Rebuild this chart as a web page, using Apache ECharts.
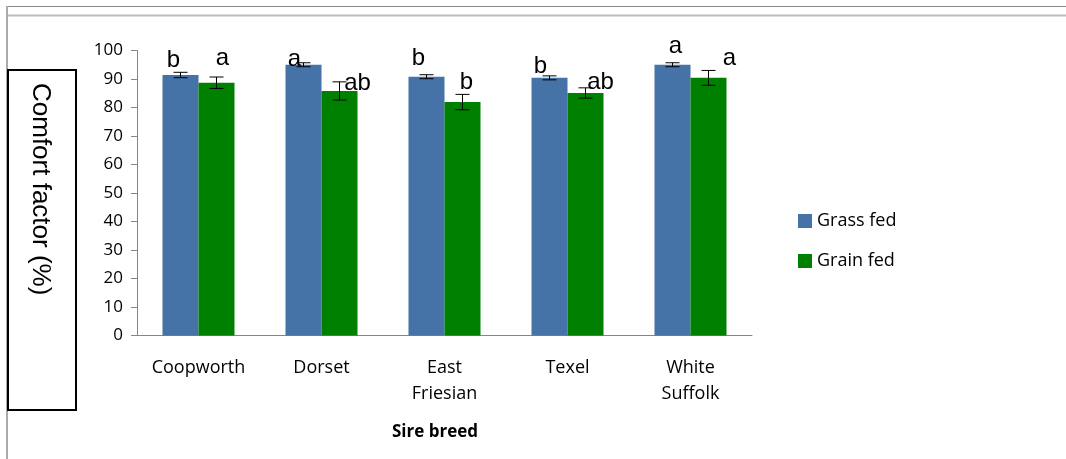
<!DOCTYPE html>
<html>
<head>
<meta charset="utf-8">
<title>Comfort factor by sire breed</title>
<script src="https://cdn.jsdelivr.net/npm/echarts@6/dist/echarts.min.js"></script>
<style>
  html, body { margin: 0; padding: 0; background: #fff; }
  #chart { width: 1066px; height: 459px; }
</style>
</head>
<body>
<div id="chart"></div>
<script>
/* === Data === */
const BREEDS = ['Coopworth', 'Dorset', 'East\nFriesian', 'Texel', 'White\nSuffolk'];
const SERIES_NAMES = ['Grass fed', 'Grain fed'];
const GRASS_MEAN = [91.4, 95.0, 90.8, 90.4, 95.0];
const GRASS_ERR = [0.95, 0.7, 0.7, 0.7, 0.7];
const GRAIN_MEAN = [88.7, 85.8, 81.9, 85.1, 90.4];
const GRAIN_ERR = [2.0, 3.2, 2.7, 1.8, 2.6];
const GRASS_LETTERS = ['b', 'a', 'b', 'b', 'a'];
const GRAIN_LETTERS = ['a', 'ab', 'b', 'ab', 'a'];
const Y_TICKS = { min: 0, max: 100, interval: 10 };

/* === Style === */
const COLORS = ['#4572A7', '#008000'];
const BAR_W = 36;
const AXIS_GRAY = '#868686';
const FONT = "'Open Sans', 'Liberation Sans', sans-serif";
// letter nudges (px) from the bar top centre, as placed in the original
const GRASS_LBL_DX = [-7, -9, -8, -9, 3];
const GRASS_LBL_DY = [-3, 7, -6, 1, -6];
const GRAIN_LBL_DX = [6, 18, 4, 15, 21];
const GRAIN_LBL_DY = [-12, 4, -8, 1, -7];

function errSeries(means, errs, letters, side, dxs, dys) {
  return {
    type: 'custom',
    z: 5,
    silent: true,
    data: means.map((m, i) => [i, m, errs[i]]),
    renderItem: (params, api) => {
      const i = api.value(0);
      const m = api.value(1);
      const e = api.value(2);
      const top = api.coord([i, m + e]);
      const bot = api.coord([i, m - e]);
      const mid = api.coord([i, m]);
      const x = top[0] + side * BAR_W / 2;
      const cap = 7;
      const st = { stroke: '#000', lineWidth: 1 };
      return {
        type: 'group',
        children: [
          { type: 'line', shape: { x1: x, y1: top[1], x2: x, y2: bot[1] }, style: st },
          { type: 'line', shape: { x1: x - cap, y1: top[1], x2: x + cap, y2: top[1] }, style: st },
          { type: 'line', shape: { x1: x - cap, y1: bot[1], x2: x + cap, y2: bot[1] }, style: st },
          {
            type: 'text',
            style: {
              text: letters[params.dataIndex],
              x: x + dxs[params.dataIndex],
              y: mid[1] + dys[params.dataIndex],
              fill: '#000',
              fontSize: 24,
              fontFamily: "'Liberation Sans', Arial, sans-serif",
              align: 'center',
              verticalAlign: 'bottom'
            }
          }
        ]
      };
    }
  };
}

function initChart() {
  const el = document.getElementById('chart');
  const chart = echarts.init(el);
  chart.setOption({
    animation: false,
    backgroundColor: '#fff',
    grid: { left: 137, right: 314, top: 50.5, bottom: 123.5 },
    legend: {
      data: SERIES_NAMES,
      orient: 'vertical',
      left: 793, top: 207,
      itemWidth: 14, itemHeight: 14, itemGap: 22,
      icon: 'rect',
      textStyle: { fontSize: 18, fontFamily: FONT, color: '#000', padding: [0, 0, 0, 0] }
    },
    xAxis: {
      type: 'category',
      data: BREEDS,
      axisLine: { lineStyle: { color: AXIS_GRAY } },
      axisTick: { length: 6, lineStyle: { color: AXIS_GRAY } },
      axisLabel: { color: '#000', fontSize: 18, fontFamily: FONT, lineHeight: 26, margin: 19, interval: 0 }
    },
    yAxis: {
      type: 'value',
      min: Y_TICKS.min, max: Y_TICKS.max, interval: Y_TICKS.interval,
      axisLine: { show: true, lineStyle: { color: AXIS_GRAY } },
      axisTick: { show: true, length: 6, lineStyle: { color: AXIS_GRAY } },
      splitLine: { show: false },
      axisLabel: { color: '#000', fontSize: 17, fontFamily: FONT, margin: 14 }
    },
    series: [
      { name: SERIES_NAMES[0], type: 'bar', data: GRASS_MEAN, barWidth: BAR_W, barGap: '0%', itemStyle: { color: COLORS[0] } },
      { name: SERIES_NAMES[1], type: 'bar', data: GRAIN_MEAN, barWidth: BAR_W, barGap: '0%', itemStyle: { color: COLORS[1] } },
      errSeries(GRASS_MEAN, GRASS_ERR, GRASS_LETTERS, -1, GRASS_LBL_DX, GRASS_LBL_DY),
      errSeries(GRAIN_MEAN, GRAIN_ERR, GRAIN_LETTERS, 1, GRAIN_LBL_DX, GRAIN_LBL_DY)
    ],
    graphic: [
      // partial outer frame of the original figure
      { type: 'line', shape: { x1: 6, y1: 6.5, x2: 1066, y2: 6.5 }, style: { stroke: '#8a8a8a', lineWidth: 1 } },
      { type: 'line', shape: { x1: 8, y1: 15.5, x2: 1066, y2: 15.5 }, style: { stroke: '#bdbdbd', lineWidth: 2 } },
      { type: 'line', shape: { x1: 7, y1: 6, x2: 7, y2: 459 }, style: { stroke: '#aaaaaa', lineWidth: 2 } },
      // y-axis title box
      { type: 'rect', shape: { x: 8, y: 70, width: 68, height: 340 }, style: { fill: '#fff', stroke: '#000', lineWidth: 2 } },
      {
        type: 'text', x: 40, y: 83, rotation: -Math.PI / 2,
        style: { text: 'Comfort factor (%)', fontSize: 26, fontFamily: "'Liberation Sans', Arial, sans-serif", fill: '#000', align: 'left', verticalAlign: 'middle' }
      },
      {
        type: 'text', x: 435, y: 432,
        style: { text: 'Sire breed', fontSize: 17, fontWeight: 'bold', fontFamily: FONT, fill: '#000', align: 'center', verticalAlign: 'middle' }
      }
    ]
  });
  window.addEventListener('resize', () => chart.resize());
}

initChart();
</script>
</body>
</html>
